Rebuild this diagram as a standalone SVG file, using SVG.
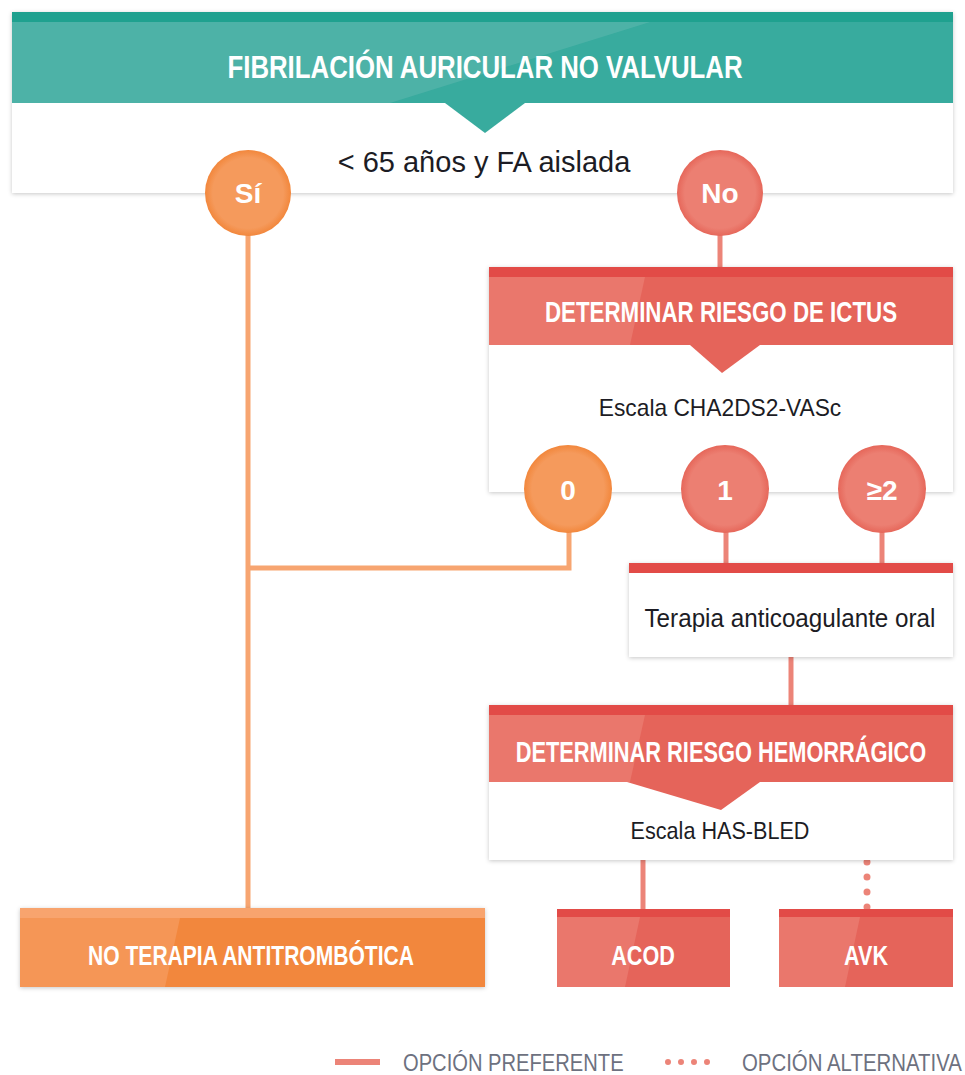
<svg xmlns="http://www.w3.org/2000/svg" width="965" height="1075" viewBox="0 0 965 1075">
<defs>
<filter id="sh" x="-5%" y="-5%" width="110%" height="115%">
<feDropShadow dx="0" dy="1" stdDeviation="2" flood-color="#000" flood-opacity="0.22"/>
</filter>
<radialGradient id="rOr" cx="0.5" cy="0.5" r="0.5">
<stop offset="0.82" stop-color="#f59a5c"/><stop offset="1" stop-color="#f2873c"/>
</radialGradient>
<radialGradient id="rRd" cx="0.5" cy="0.5" r="0.5">
<stop offset="0.82" stop-color="#ec7f72"/><stop offset="1" stop-color="#e6675a"/>
</radialGradient>
</defs>
<style>
.hd{font-family:"Liberation Sans",Arial,sans-serif;font-weight:bold;fill:#fff;text-anchor:middle}
.bd{font-family:"Liberation Sans",Arial,sans-serif;fill:#1c1c24;text-anchor:middle}
.lg{font-family:"Liberation Sans",Arial,sans-serif;fill:#6d7180;font-size:24px}
.or{stroke:#f7a571;stroke-width:5;fill:none}
.rd{stroke:#ec8478;stroke-width:5;fill:none}
.dt{stroke:#ec8478;stroke-width:7;stroke-linecap:round;stroke-dasharray:0 15;fill:none}
.cl{font-family:"Liberation Sans",Arial,sans-serif;font-weight:bold;fill:#fff;text-anchor:middle;font-size:28px}
</style>
<rect width="965" height="1075" fill="#fff"/>

<g id="connectors">
<path class="or" d="M248 230 V908"/>
<path class="or" d="M569 530 V568 H248"/>
<path class="rd" d="M720 230 V268"/>
<path class="rd" d="M726 530 V564"/>
<path class="rd" d="M882 530 V564"/>
<path class="rd" d="M791 656 V706"/>
<path class="rd" d="M643 859 V909"/>
<path class="dt" d="M867 862 V910"/>
</g>

<g id="n-fa">
<rect x="12" y="12" width="941" height="181" fill="#fff" filter="url(#sh)"/>
<rect x="12" y="12" width="941" height="91" fill="#38ab9e"/>
<polygon points="12,22 650,22 390,103 12,103" fill="#5cb8ad" opacity="0.6"/>
<rect x="12" y="12" width="941" height="10" fill="#1fa18f"/>
<polygon points="445,103 525,103 485,133" fill="#38ab9e"/>
<text class="hd" transform="translate(485,78) scale(0.806,1)" font-size="32">FIBRILACIÓN AURICULAR NO VALVULAR</text>
<text class="bd" transform="translate(484,172) scale(1.0,1)" font-size="29">&lt; 65 años y FA aislada</text>
</g>

<g id="n-si">
<circle cx="248" cy="193" r="43" fill="url(#rOr)"/>
<text class="cl" x="248" y="203">Sí</text>
</g>
<g id="n-no">
<circle cx="720" cy="193" r="43" fill="url(#rRd)"/>
<text class="cl" x="720" y="203">No</text>
</g>

<g id="n-ictus">
<rect x="489" y="267" width="464" height="225" fill="#fff" filter="url(#sh)"/>
<rect x="489" y="267" width="464" height="78" fill="#e5645a"/>
<polygon points="489,277 645,277 630,345 489,345" fill="#ec8478" opacity="0.6"/>
<rect x="489" y="267" width="464" height="10" fill="#e24b47"/>
<polygon points="690,345 760,345 722,373" fill="#e5645a"/>
<text class="hd" transform="translate(721,322) scale(0.744,1)" font-size="30">DETERMINAR RIESGO DE ICTUS</text>
<text class="bd" transform="translate(720,416) scale(0.99,1)" font-size="23">Escala CHA2DS2-VASc</text>
</g>

<g id="n-0">
<circle cx="568" cy="489" r="44" fill="url(#rOr)"/>
<text class="cl" x="568" y="500">0</text>
</g>
<g id="n-1">
<circle cx="725" cy="489" r="44" fill="url(#rRd)"/>
<text class="cl" x="725" y="500">1</text>
</g>
<g id="n-2">
<circle cx="882" cy="489" r="44" fill="url(#rRd)"/>
<text class="cl" x="882" y="500">≥2</text>
</g>

<g id="n-tao">
<rect x="629" y="563" width="324" height="94" fill="#fff" filter="url(#sh)"/>
<rect x="629" y="563" width="324" height="10" fill="#e24b47"/>
<text class="bd" transform="translate(790,627) scale(0.97,1)" font-size="25">Terapia anticoagulante oral</text>
</g>

<g id="n-hem">
<rect x="489" y="705" width="464" height="155" fill="#fff" filter="url(#sh)"/>
<rect x="489" y="705" width="464" height="77" fill="#e5645a"/>
<polygon points="489,715 645,715 630,782 489,782" fill="#ec8478" opacity="0.6"/>
<rect x="489" y="705" width="464" height="10" fill="#e24b47"/>
<polygon points="627,782 760,782 721,810" fill="#e5645a"/>
<text class="hd" transform="translate(721,762) scale(0.727,1)" font-size="30">DETERMINAR RIESGO HEMORRÁGICO</text>
<text class="bd" transform="translate(720,839) scale(0.9,1)" font-size="24">Escala HAS-BLED</text>
</g>

<g id="n-acod">
<rect x="557" y="909" width="173" height="78" fill="#e5645a"/>
<polygon points="557,917 640,917 625,987 557,987" fill="#ec8478" opacity="0.6"/>
<rect x="557" y="909" width="173" height="8" fill="#e24b47"/>
<text class="hd" transform="translate(643,965) scale(0.8,1)" font-size="27">ACOD</text>
</g>
<g id="n-avk">
<rect x="779" y="909" width="174" height="78" fill="#e5645a"/>
<polygon points="779,917 860,917 845,987 779,987" fill="#ec8478" opacity="0.6"/>
<rect x="779" y="909" width="174" height="8" fill="#e24b47"/>
<text class="hd" transform="translate(866,965) scale(0.8,1)" font-size="27">AVK</text>
</g>

<g id="n-noterapia">
<rect x="20" y="908" width="465" height="79" fill="#f2873c" filter="url(#sh)"/>
<polygon points="20,918 180,918 165,987 20,987" fill="#f6a067" opacity="0.6"/>
<rect x="20" y="908" width="465" height="10" fill="#f8a46e"/>
<text class="hd" transform="translate(251,965) scale(0.78,1)" font-size="27">NO TERAPIA ANTITROMBÓTICA</text>
</g>

<g id="legend">
<line x1="335" y1="1062" x2="380" y2="1062" stroke="#ec8478" stroke-width="6"/>
<text class="lg" transform="translate(403,1071) scale(0.84,1)">OPCIÓN PREFERENTE</text>
<line x1="668" y1="1062" x2="708" y2="1062" stroke="#ec8478" stroke-width="6" stroke-linecap="round" stroke-dasharray="0 13"/>
<text class="lg" transform="translate(742,1071) scale(0.85,1)">OPCIÓN ALTERNATIVA</text>
</g>
</svg>
